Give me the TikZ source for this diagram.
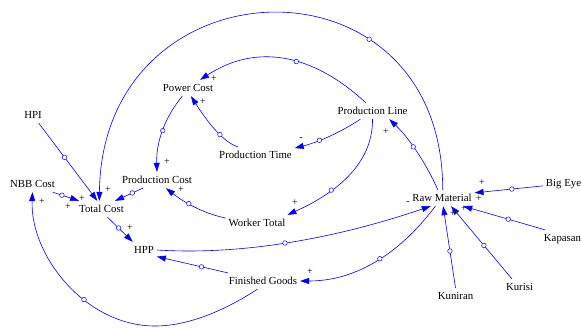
\documentclass[tikz,border=0pt]{standalone}
\usepackage{fontspec}
\setmainfont{Liberation Serif}
\usetikzlibrary{arrows.meta}
\begin{document}
\begin{tikzpicture}[x=1pt,y=-1pt,
  var/.style={font=\fontsize{10.8}{12}\selectfont, inner xsep=3pt, inner ysep=4.5pt, text height=7.3pt, text depth=0pt, outer sep=0pt},
  sgn/.style={font=\fontsize{10}{11}\selectfont, inner sep=0pt},
  lnk/.style={draw=blue, line width=0.6pt, -{Triangle[length=9pt,width=6pt]}},
  hole/.style={circle, draw=blue, fill=white, inner sep=0pt, minimum size=4.6pt, line width=0.5pt}]
\useasboundingbox (0,0) rectangle (581,328);

% variables
\node[var] (hpi) at (33,115) {HPI};
\node[var] (nbb) at (32.5,184) {NBB Cost};
\node[var] (tc)  at (101.5,209) {Total Cost};
\node[var] (pc)  at (157,180) {Production Cost};
\node[var] (pow) at (188,88) {Power Cost};
\node[var] (pt)  at (255.5,155) {Production Time};
\node[var] (pl)  at (372.5,111) {Production Line};
\node[var] (wt)  at (257,223) {Worker Total};
\node[var] (rm)  at (442,198) {Raw Material};
\node[var] (be)  at (563.5,183) {Big Eye};
\node[var] (kap) at (562.5,238) {Kapasan};
\node[var] (kur) at (519.5,287) {Kurisi};
\node[var] (kun) at (455.5,296) {Kuniran};
\node[var] (hpp) at (144,250) {HPP};
\node[var] (fg)  at (263,281) {Finished Goods};

% links
\draw[lnk] (hpi.305) -- (tc.117) node[hole,pos=0.44]{};
\draw[lnk] (nbb.338) -- (tc.160) node[hole,pos=0.35]{};
\draw[lnk] (pc.210) -- (tc.31) node[hole,pos=0.38]{};
\draw[lnk] (tc.306) -- (hpp.144) node[hole,pos=0.44]{};
\draw[lnk] (pow.235) .. controls (165,117) and (156,142) .. (pc.90) node[hole,pos=0.5]{};
\draw[lnk] (pl.129) .. controls (311,52) and (255,44) .. (pow.34) node[hole,pos=0.42]{};
\draw[lnk] (pt.155) .. controls (225,143) and (210,126) .. (pow.290) node[hole,pos=0.43]{};
\draw[lnk] (pl.214) .. controls (341,132) and (319,142) .. (pt.10) node[hole,pos=0.65]{};
\draw[lnk] (pl.270) .. controls (373,158) and (345,189) .. (wt.15) node[hole,pos=0.7]{};
\draw[lnk] (wt.171) .. controls (206,214) and (186,204) .. (pc.318) node[hole,pos=0.62]{};
\draw[lnk] (rm.117) .. controls (425,161) and (408,137) .. (pl.334) node[hole,pos=0.55]{};
\draw[lnk] (rm.85) .. controls (443,-53) and (102,-42) .. (tc.105) node[hole,pos=0.3]{};
\draw[lnk] (hpp.0) .. controls (236,255) and (328,241) .. (rm.216) node[hole,pos=0.5]{};
\draw[lnk] (fg.167) -- (hpp.333) node[hole,pos=0.37]{};
\draw[lnk] (rm.231) .. controls (397,257) and (353,281) .. (fg.0) node[hole,pos=0.45]{};
\draw[lnk] (fg.236) .. controls (227,309) and (190,326) .. (155,326)
           .. controls (85,326) and (30,255) .. (nbb.270) node[hole,pos=0.38]{};
\draw[lnk] (be.188) -- (rm.9) node[hole,pos=0.455]{};
\draw[lnk] (kap.155) -- (rm.339) node[hole,pos=0.45]{};
\draw[lnk] (kur.133) -- (rm.318) node[hole,pos=0.46]{};
\draw[lnk] (kun.90) -- (rm.278) node[hole,pos=0.45]{};

% polarities
\node[sgn] (s1)  at (108,190) {+};
\node[sgn] (s2)  at (82,199) {+};
\node[sgn] (s3)  at (68,207) {+};
\node[sgn] (s4)  at (130,228) {+};
\node[sgn] (s5)  at (167,162) {+};
\node[sgn] (s6)  at (181,190) {+};
\node[sgn] (s7)  at (214,79) {+};
\node[sgn] (s8)  at (203,102) {+};
\node[sgn] (s9)  at (301,139) {-};
\node[sgn] (s10) at (295,203) {+};
\node[sgn] (s11) at (386,132) {+};
\node[sgn] (s12) at (408,203) {-};
\node[sgn] (s13) at (310,272) {+};
\node[sgn] (s14) at (42,202) {+};
\node[sgn] (s15) at (482,183) {+};
\node[sgn] (s16) at (479,199) {+};
\node[sgn] (s17) at (464,209) {+};
\node[sgn] (s18) at (453,214) {+};
\end{tikzpicture}
\end{document}
